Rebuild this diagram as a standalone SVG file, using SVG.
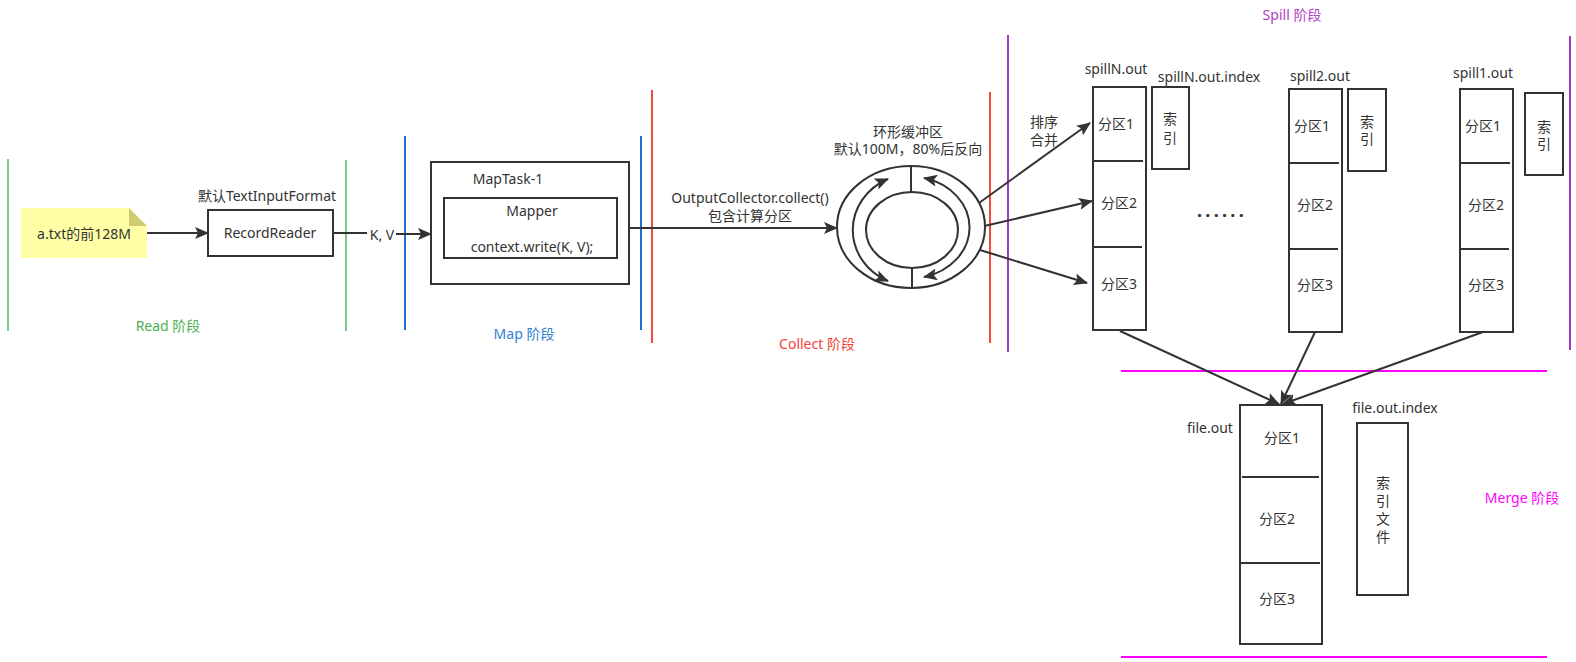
<svg xmlns="http://www.w3.org/2000/svg" width="1576" height="662" viewBox="0 0 1576 662">
<style>
text{font-family:"Noto Sans","Noto Sans CJK SC",sans-serif;font-size:14px;fill:#333;text-anchor:middle;dominant-baseline:central}
.box{fill:#fff;stroke:#333;stroke-width:2}
.ln{fill:none;stroke:#333;stroke-width:2}
.arr{fill:none;stroke:#333;stroke-width:2;marker-end:url(#ah)}
.green{stroke:#82C885;stroke-width:2}
.blue{stroke:#1F70D0;stroke-width:2}
.red{stroke:#F44A3E;stroke-width:2}
.purple{stroke:#A535C5;stroke-width:2}
.mag{stroke:#FF00FF;stroke-width:2}
</style>
<defs>
<marker id="ah" markerUnits="userSpaceOnUse" markerWidth="14" markerHeight="12" refX="13" refY="6" orient="auto-start-reverse" viewBox="0 0 14 12">
<path d="M0,0 L14,6 L0,12 L3,6 Z" fill="#333"/>
</marker>
</defs>
<rect width="1576" height="662" fill="#fff"/>

<g id="phase-lines">
<line class="green" x1="8" y1="159" x2="8" y2="331"/>
<line class="green" x1="346" y1="160" x2="346" y2="331"/>
<line class="blue" x1="405" y1="136" x2="405" y2="330"/>
<line class="blue" x1="641" y1="136" x2="641" y2="330"/>
<line class="red" x1="652" y1="90" x2="652" y2="343"/>
<line class="red" x1="990" y1="92" x2="990" y2="343"/>
<line class="purple" x1="1008" y1="35" x2="1008" y2="352"/>
<line class="purple" x1="1570" y1="36" x2="1570" y2="350"/>
<line class="mag" x1="1121" y1="371" x2="1547" y2="371"/>
<line class="mag" x1="1121" y1="657" x2="1547" y2="657"/>
</g>

<g id="phase-labels">
<text x="168" y="325" style="fill:#4CAF50">Read 阶段</text>
<text x="524" y="333" style="fill:#2F80D8">Map 阶段</text>
<text x="817" y="343" style="fill:#F44336">Collect 阶段</text>
<text x="1292" y="14" style="fill:#B040C8">Spill 阶段</text>
<text x="1522" y="497" style="fill:#FF00FF">Merge 阶段</text>
</g>

<g id="connectors">
<line class="arr" x1="147" y1="233" x2="208" y2="233"/>
<line class="ln" x1="333" y1="233" x2="367" y2="233"/>
<line class="arr" x1="396" y1="234" x2="431" y2="234"/>
<line class="arr" x1="617" y1="228" x2="837" y2="228"/>
<line class="arr" x1="979" y1="203" x2="1090" y2="123"/>
<line class="arr" x1="980" y1="227" x2="1092" y2="201"/>
<line class="arr" x1="980" y1="250" x2="1087" y2="283"/>
<line class="arr" x1="1120" y1="331" x2="1279" y2="404"/>
<line class="arr" x1="1315" y1="332" x2="1281" y2="404"/>
<line class="arr" x1="1483" y1="332" x2="1283" y2="404"/>
<text x="382" y="234">K, V</text>
<text x="750" y="197">OutputCollector.collect()</text>
<text x="750" y="215">包含计算分区</text>
<text x="1044" y="121">排序</text>
<text x="1044" y="139">合并</text>
</g>

<g id="input-file">
<polygon points="21,208 129,208 147,226 147,258 21,258" fill="#FFFFA6"/>
<polygon points="129,208 147,226 129,226" fill="#CFCA74"/>
<text x="84" y="233">a.txt的前128M</text>
</g>

<g id="record-reader">
<text x="267" y="195">默认TextInputFormat</text>
<rect class="box" x="208" y="210" width="125" height="46"/>
<text x="270" y="232">RecordReader</text>
</g>

<g id="maptask">
<rect class="box" x="431" y="162" width="198" height="122"/>
<text x="508" y="178">MapTask-1</text>
<rect class="box" x="444" y="198" width="173" height="60"/>
<text x="532" y="210">Mapper</text>
<text x="532" y="246">context.write(K, V);</text>
</g>

<g id="ring-buffer">
<text x="908" y="131">环形缓冲区</text>
<text x="908" y="148">默认100M，80%后反向</text>
<ellipse class="box" cx="911" cy="227" rx="74" ry="61"/>
<ellipse class="box" cx="912" cy="230" rx="46" ry="38"/>
<line class="ln" x1="911" y1="167" x2="911" y2="192"/>
<line class="ln" x1="912" y1="268" x2="912" y2="288"/>
<path class="ln" d="M888,179 A60,56 0 0 0 888,281" style="marker-start:url(#ah);marker-end:url(#ah)"/>
<path class="ln" d="M924,178 A60,51 0 0 1 924,277" style="marker-start:url(#ah);marker-end:url(#ah)"/>
</g>

<g id="spillN">
<text x="1116" y="68">spillN.out</text>
<rect class="box" x="1093" y="87" width="53" height="243"/>
<line class="ln" x1="1093" y1="161" x2="1143" y2="161"/>
<line class="ln" x1="1093" y1="247" x2="1142" y2="247"/>
<text x="1116" y="123">分区1</text>
<text x="1119" y="202">分区2</text>
<text x="1119" y="283">分区3</text>
</g>
<g id="spillN-index">
<text x="1209" y="76">spillN.out.index</text>
<rect class="box" x="1152" y="87" width="37" height="82"/>
<text x="1170" y="118">索</text>
<text x="1170" y="137">引</text>
</g>

<g id="dots">
<text x="1222" y="210" style="font-size:18px;font-weight:bold;letter-spacing:3.3px">......</text>
</g>

<g id="spill2">
<text x="1320" y="75">spill2.out</text>
<rect class="box" x="1289" y="89" width="53" height="243"/>
<line class="ln" x1="1289" y1="163" x2="1339" y2="163"/>
<line class="ln" x1="1289" y1="249" x2="1338" y2="249"/>
<text x="1312" y="125">分区1</text>
<text x="1315" y="204">分区2</text>
<text x="1315" y="284">分区3</text>
</g>
<g id="spill2-index">
<rect class="box" x="1348" y="89" width="38" height="82"/>
<text x="1367" y="121">索</text>
<text x="1367" y="138">引</text>
</g>

<g id="spill1">
<text x="1483" y="72">spill1.out</text>
<rect class="box" x="1460" y="89" width="53" height="243"/>
<line class="ln" x1="1460" y1="163" x2="1510" y2="163"/>
<line class="ln" x1="1460" y1="249" x2="1509" y2="249"/>
<text x="1483" y="125">分区1</text>
<text x="1486" y="204">分区2</text>
<text x="1486" y="284">分区3</text>
</g>
<g id="spill1-index">
<rect class="box" x="1525" y="93" width="38" height="82"/>
<text x="1544" y="126">索</text>
<text x="1544" y="143">引</text>
</g>

<g id="file-out">
<text x="1210" y="427">file.out</text>
<rect class="box" x="1240" y="405" width="82" height="239"/>
<line class="ln" x1="1242" y1="477" x2="1319" y2="477"/>
<line class="ln" x1="1241" y1="563" x2="1320" y2="563"/>
<text x="1282" y="437">分区1</text>
<text x="1277" y="518">分区2</text>
<text x="1277" y="598">分区3</text>
</g>

<g id="file-out-index">
<text x="1395" y="407">file.out.index</text>
<rect class="box" x="1357" y="423" width="51" height="172"/>
<text x="1383" y="482">索</text>
<text x="1383" y="500">引</text>
<text x="1383" y="518">文</text>
<text x="1383" y="536">件</text>
</g>
</svg>
